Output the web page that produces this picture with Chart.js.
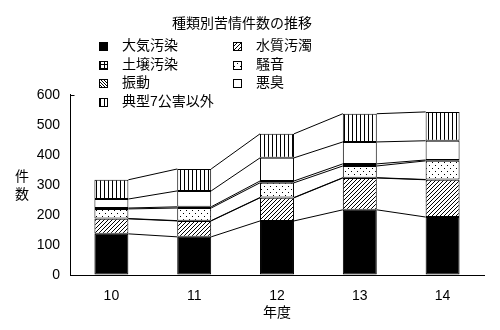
<!DOCTYPE html>
<html lang="ja">
<head>
<meta charset="UTF-8">
<title>種類別苦情件数の推移</title>
<script src="https://cdn.jsdelivr.net/npm/chart.js"></script>
<style>
  body { margin: 0; background: #fff; }
  canvas { display: block; }
</style>
</head>
<body>
<canvas id="chart" width="500" height="330"></canvas>
<script>
// data
const years = ['10', '11', '12', '13', '14'];
const taiki = [137, 127, 180, 217, 193];   // 大気汚染
const suishitsu = [50, 53, 77, 106, 124];  // 水質汚濁
const dojou = [1, 1, 1, 1, 1];             // 土壌汚染
const souon = [32, 42, 49, 39, 62];        // 騒音
const shindou = [3, 4, 6, 7, 3];           // 振動
const akushuu = [30, 53, 77, 73, 64];      // 悪臭
const sonota = [64, 73, 80, 94, 96];       // 典型7公害以外
const yTicks = [0, 100, 200, 300, 400, 500, 600];

const FONT = "'Liberation Sans', 'Noto Sans CJK JP', sans-serif";

// small pixel patterns
function makePattern(w, h, pixels) {
    const c = document.createElement('canvas');
    c.width = w; c.height = h;
    const g = c.getContext('2d');
    g.fillStyle = '#fff';
    g.fillRect(0, 0, w, h);
    g.fillStyle = '#000';
    pixels.forEach(p => g.fillRect(p[0], p[1], 1, 1));
    return document.getElementById('chart').getContext('2d').createPattern(c, 'repeat');
}
const pSlash = makePattern(4, 4, [[3,0],[2,1],[1,2],[0,3]]);
const pBack = makePattern(3, 3, [[0,0],[1,1],[2,2]]);
const pGrid = makePattern(4, 4, [[0,0],[1,0],[2,0],[3,0],[0,1],[0,2],[0,3]]);
const pDots = makePattern(6, 6, [[0,0],[3,3]]);
const pVert = makePattern(4, 1, [[0,0]]);

const series = [
    { label: '大気汚染', data: taiki, fill: '#000' },
    { label: '水質汚濁', data: suishitsu, fill: pSlash },
    { label: '土壌汚染', data: dojou, fill: pGrid },
    { label: '騒音', data: souon, fill: pDots },
    { label: '振動', data: shindou, fill: pBack },
    { label: '悪臭', data: akushuu, fill: '#fff' },
    { label: '典型7公害以外', data: sonota, fill: pVert }
];

// lines joining the segment tops of neighbouring bars
const seriesLines = {
    id: 'seriesLines',
    afterDatasetsDraw(chart) {
        const ctx = chart.ctx;
        ctx.save();
        ctx.strokeStyle = '#000';
        ctx.lineWidth = 1;
        chart.data.datasets.forEach((ds, i) => {
            const bars = chart.getDatasetMeta(i).data;
            for (let j = 0; j < bars.length - 1; j++) {
                const a = bars[j], b = bars[j + 1];
                ctx.beginPath();
                ctx.moveTo(a.x + a.width / 2, a.y);
                ctx.lineTo(b.x - b.width / 2, b.y);
                ctx.stroke();
            }
        });
        ctx.restore();
    }
};

// two-column legend, axis lines and the upright y title
const extras = {
    id: 'extras',
    afterDraw(chart) {
        const ctx = chart.ctx;
        const area = chart.chartArea;
        ctx.save();
        // axes
        ctx.strokeStyle = '#000';
        ctx.lineWidth = 1;
        const x0 = Math.round(area.left) + 0.5;
        const y0 = Math.round(area.bottom) + 0.5;
        const yTop = Math.round(chart.scales.y.getPixelForValue(600)) + 0.5;
        ctx.beginPath();
        ctx.moveTo(x0 + 4, yTop);
        ctx.lineTo(x0, yTop);
        ctx.lineTo(x0, y0);
        ctx.lineTo(Math.round(area.right), y0);
        ctx.stroke();

        ctx.font = '14px ' + FONT;
        ctx.fillStyle = '#000';
        ctx.textBaseline = 'middle';
        chart.data.datasets.forEach((ds, i) => {
            const col = i % 2, row = Math.floor(i / 2);
            const x = col ? 233 : 99;
            const y = 46 + row * 18.7;
            ctx.fillStyle = ds.backgroundColor;
            ctx.fillRect(x, Math.round(y - 4), 9, 9);
            ctx.strokeStyle = '#000';
            ctx.strokeRect(x + 0.5, Math.round(y - 4) + 0.5, 8, 8);
            ctx.fillStyle = '#000';
            ctx.textAlign = 'left';
            ctx.fillText(ds.label, x + 23, y);
        });
        ctx.textAlign = 'center';
        ctx.fillText('件', 22, 177);
        ctx.fillText('数', 22, 195);
        ctx.restore();
    }
};

new Chart(document.getElementById('chart'), {
    type: 'bar',
    data: {
        labels: years,
        datasets: series.map(s => ({
            label: s.label,
            data: s.data,
            backgroundColor: s.fill,
            borderColor: '#000',
            borderWidth: 1,
            borderSkipped: false,
            categoryPercentage: 1,
            barPercentage: 0.41
        }))
    },
    options: {
        responsive: false,
        animation: false,
        layout: { padding: { left: 0, right: 16, bottom: 8 } },
        plugins: {
            legend: { display: false },
            tooltip: { enabled: false },
            title: {
                display: true,
                text: '種類別苦情件数の推移',
                color: '#000',
                font: { family: FONT, size: 14, weight: 'normal' },
                padding: { top: 16, bottom: 62 }
            }
        },
        scales: {
            x: {
                stacked: true,
                afterFit(scale) { scale.height = 47; },
                grid: { drawOnChartArea: false, drawTicks: false },
                border: { color: '#000', width: 1 },
                ticks: { color: '#000', padding: 13, font: { family: FONT, size: 14 } },
                title: {
                    display: true,
                    text: '年度',
                    color: '#000',
                    padding: { top: 0, bottom: 0 },
                    font: { family: FONT, size: 14 }
                }
            },
            y: {
                stacked: true,
                min: 0,
                max: 600,
                afterFit(scale) { scale.width = 70; },
                afterBuildTicks(scale) { scale.ticks = yTicks.map(v => ({ value: v })); },
                grid: { drawOnChartArea: false, drawTicks: false },
                border: { color: '#000', width: 1 },
                ticks: { color: '#000', padding: 10, font: { family: FONT, size: 14 } }
            }
        }
    },
    plugins: [seriesLines, extras]
});
</script>
</body>
</html>
